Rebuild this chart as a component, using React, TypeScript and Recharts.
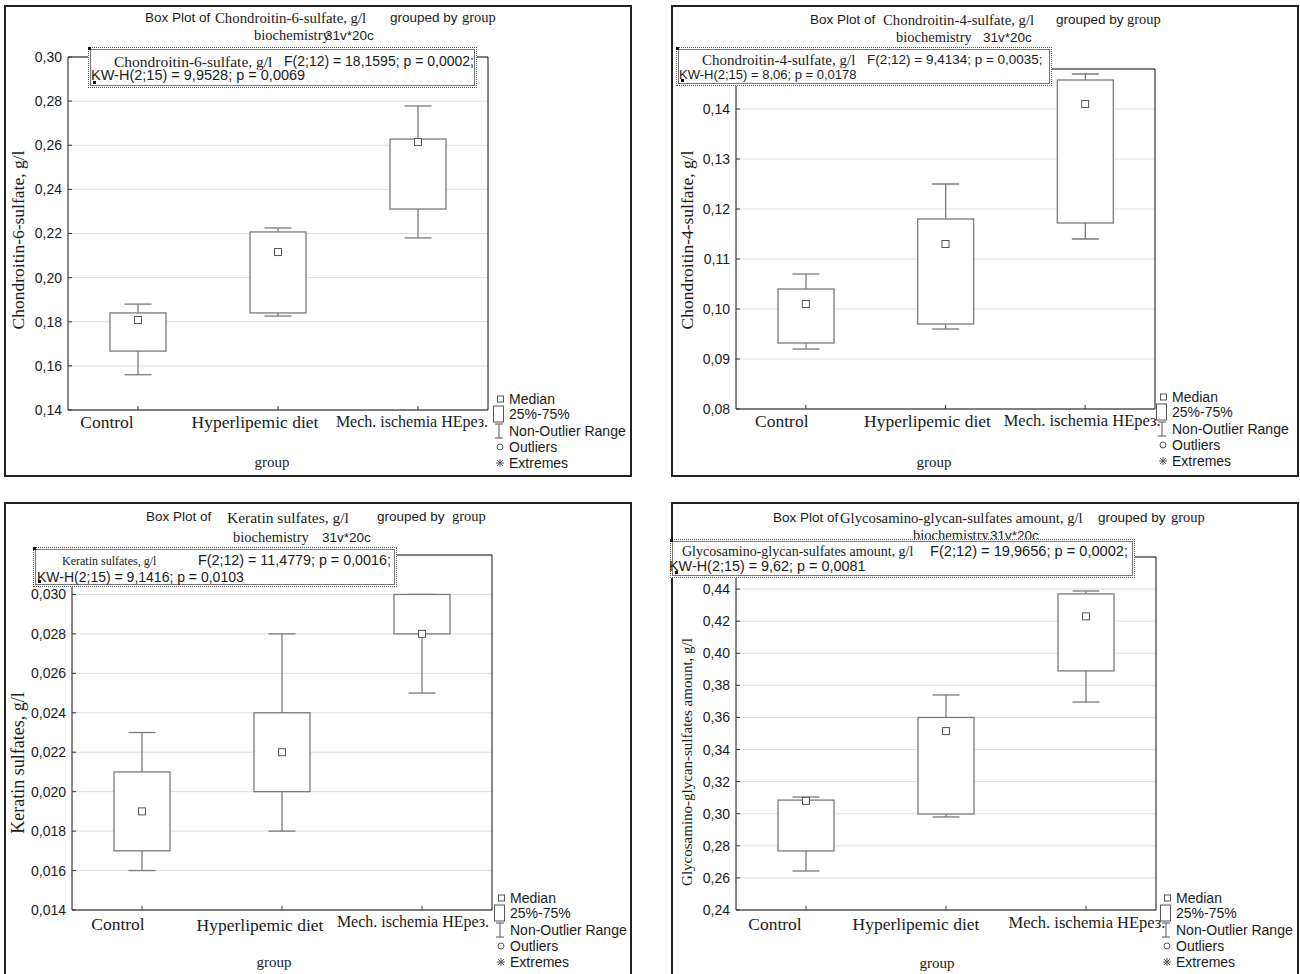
import React from 'react';
import { ComposedChart, Bar, Scatter, XAxis, YAxis, CartesianGrid, ReferenceLine } from 'recharts';

// ---------------- DATA ----------------
const categories = ['Control', 'Hyperlipemic diet', 'Mech. ischemia HEрез.'];

// Chondroitin-6-sulfate, g/l
const c6sMin = [0.156, 0.1826, 0.218];
const c6sQ1 = [0.1667, 0.184, 0.2311];
const c6sMedian = [0.1808, 0.2116, 0.2615];
const c6sQ3 = [0.184, 0.2207, 0.2628];
const c6sMax = [0.188, 0.2225, 0.2778];
const c6sTicks = [0.14, 0.16, 0.18, 0.2, 0.22, 0.24, 0.26, 0.28, 0.3];

// Chondroitin-4-sulfate, g/l
const c4sMin = [0.092, 0.096, 0.114];
const c4sQ1 = [0.0932, 0.097, 0.1172];
const c4sMedian = [0.101, 0.113, 0.141];
const c4sQ3 = [0.104, 0.118, 0.1458];
const c4sMax = [0.107, 0.125, 0.147];
const c4sTicks = [0.08, 0.09, 0.1, 0.11, 0.12, 0.13, 0.14];

// Keratin sulfates, g/l
const ksMin = [0.016, 0.018, 0.025];
const ksQ1 = [0.017, 0.02, 0.028];
const ksMedian = [0.019, 0.022, 0.028];
const ksQ3 = [0.021, 0.024, 0.03];
const ksMax = [0.023, 0.028, 0.03];
const ksTicks = [0.014, 0.016, 0.018, 0.02, 0.022, 0.024, 0.026, 0.028, 0.03];

// Glycosamino-glycan-sulfates amount, g/l
const gagMin = [0.2643, 0.298, 0.3696];
const gagQ1 = [0.2768, 0.2998, 0.389];
const gagMedian = [0.308, 0.3515, 0.423];
const gagQ3 = [0.3085, 0.36, 0.437];
const gagMax = [0.3104, 0.374, 0.4388];
const gagTicks = [0.24, 0.26, 0.28, 0.3, 0.32, 0.34, 0.36, 0.38, 0.4, 0.42, 0.44];

const legendLabels = ['Median', '25%-75%', 'Non-Outlier Range', 'Outliers', 'Extremes'];

function buildRows(mn: number[], q1: number[], md: number[], q3: number[], mx: number[]) {
  return categories.map((name, i) => ({
    name,
    whisker: [mn[i], mx[i]],
    box: [q1[i], q3[i]],
    median: md[i],
  }));
}

// ---------------- STYLE ----------------
const SANS = '"Liberation Sans", Arial, sans-serif';
const SERIF = '"Liberation Serif", "Times New Roman", serif';
const INK = '#1a1a1a';
const BOXC = '#7a7a7a';

type Piece = { t: string; x: number; serif?: boolean; size?: number };

type PanelCfg = {
  frame: { l: number; t: number; r: number; b: number };
  plot: { l: number; t: number; r: number; b: number };
  domain: [number, number];
  ticks: number[];
  decimals: number;
  rows: any[];
  tickDx: number[];
  tickDy: number[];
  tickFs: number[];
  title: { y: number; pieces: Piece[] };
  subtitle: { y: number; pieces: Piece[] };
  note: { l: number; t: number; w: number; h: number; line1: Piece[]; y1: number; line2: Piece[]; y2: number };
  yLabel: { t: string; x: number; y: number; size: number };
  xLabel: { x: number; y: number };
  legend: { x: number; y: number };
};

const panels: PanelCfg[] = [
  {
    frame: { l: 4, t: 5, r: 632, b: 477 },
    plot: { l: 68, t: 57, r: 488, b: 410 },
    domain: [0.14, 0.3],
    ticks: c6sTicks,
    decimals: 2,
    rows: buildRows(c6sMin, c6sQ1, c6sMedian, c6sQ3, c6sMax),
    tickDx: [-31, -23, -6],
    tickDy: [0, 0, -1],
    tickFs: [17.5, 17.5, 16],
    title: {
      y: 18,
      pieces: [
        { t: 'Box Plot of', x: 145, size: 13.5 },
        { t: 'Chondroitin-6-sulfate, g/l', x: 215, serif: true, size: 14.8 },
        { t: 'grouped by', x: 390, size: 13.5 },
        { t: 'group', x: 462, serif: true, size: 14.5 },
      ],
    },
    subtitle: {
      y: 36,
      pieces: [
        { t: 'biochemistry', x: 254, serif: true, size: 14.5 },
        { t: '31v*20c', x: 325, size: 13.5 },
      ],
    },
    note: {
      l: 88, t: 47, w: 389, h: 41, y1: 61, y2: 76,
      line1: [
        { t: 'Chondroitin-6-sulfate, g/l', x: 114, serif: true, size: 15.5 },
        { t: 'F(2;12) = 18,1595; p = 0,0002;', x: 284, size: 14 },
      ],
      line2: [{ t: 'KW-H(2;15) = 9,9528; p = 0,0069', x: 91, size: 14.5 }],
    },
    yLabel: { t: 'Chondroitin-6-sulfate, g/l', x: 18, y: 240, size: 17.5 },
    xLabel: { x: 272, y: 462 },
    legend: { x: 497, y: 399 },
  },
  {
    frame: { l: 671, t: 5, r: 1299, b: 477 },
    plot: { l: 736, t: 69, r: 1155, b: 409 },
    domain: [0.08, 0.148],
    ticks: c4sTicks,
    decimals: 2,
    rows: buildRows(c4sMin, c4sQ1, c4sMedian, c4sQ3, c4sMax),
    tickDx: [-24, -18, -3],
    tickDy: [0, 0, -1],
    tickFs: [17.5, 17.5, 16.5],
    title: {
      y: 20,
      pieces: [
        { t: 'Box Plot of', x: 810, size: 13.5 },
        { t: 'Chondroitin-4-sulfate, g/l', x: 883, serif: true, size: 14.8 },
        { t: 'grouped by', x: 1056, size: 13.5 },
        { t: 'group', x: 1127, serif: true, size: 14.5 },
      ],
    },
    subtitle: {
      y: 38,
      pieces: [
        { t: 'biochemistry', x: 896, serif: true, size: 14.5 },
        { t: '31v*20c', x: 983, size: 13.5 },
      ],
    },
    note: {
      l: 676, t: 47, w: 376, h: 39, y1: 60, y2: 75,
      line1: [
        { t: 'Chondroitin-4-sulfate, g/l', x: 702, serif: true, size: 15 },
        { t: 'F(2;12) = 9,4134; p = 0,0035;', x: 867, size: 13.5 },
      ],
      line2: [{ t: 'KW-H(2;15) = 8,06; p = 0,0178', x: 679, size: 13 }],
    },
    yLabel: { t: 'Chondroitin-4-sulfate, g/l', x: 687, y: 240, size: 17.5 },
    xLabel: { x: 934, y: 462 },
    legend: { x: 1160, y: 397 },
  },
  {
    frame: { l: 4, t: 502, r: 632, b: 990 },
    plot: { l: 72, t: 555, r: 492, b: 910 },
    domain: [0.014, 0.032],
    ticks: ksTicks,
    decimals: 3,
    rows: buildRows(ksMin, ksQ1, ksMedian, ksQ3, ksMax),
    tickDx: [-24, -22, -9],
    tickDy: [2, 3, -1],
    tickFs: [17.5, 17.5, 16],
    title: {
      y: 517,
      pieces: [
        { t: 'Box Plot of', x: 146, size: 13.5 },
        { t: 'Keratin sulfates, g/l', x: 227, serif: true, size: 15.5 },
        { t: 'grouped by', x: 377, size: 13.5 },
        { t: 'group', x: 452, serif: true, size: 14.5 },
      ],
    },
    subtitle: {
      y: 538,
      pieces: [
        { t: 'biochemistry', x: 233, serif: true, size: 14.5 },
        { t: '31v*20c', x: 322, size: 13.5 },
      ],
    },
    note: {
      l: 33, t: 547, w: 364, h: 40, y1: 561, y2: 577,
      line1: [
        { t: 'Keratin sulfates, g/l', x: 62, serif: true, size: 12 },
        { t: 'F(2;12) = 11,4779; p = 0,0016;', x: 198, size: 14.3 },
      ],
      line2: [{ t: 'KW-H(2;15) = 9,1416; p = 0,0103', x: 37, size: 14 }],
    },
    yLabel: { t: 'Keratin sulfates, g/l', x: 18, y: 763, size: 18 },
    xLabel: { x: 274, y: 962 },
    legend: { x: 498, y: 898 },
  },
  {
    frame: { l: 671, t: 502, r: 1299, b: 990 },
    plot: { l: 736, t: 557, r: 1156, b: 910 },
    domain: [0.24, 0.46],
    ticks: gagTicks,
    decimals: 2,
    rows: buildRows(gagMin, gagQ1, gagMedian, gagQ3, gagMax),
    tickDx: [-31, -30, 1],
    tickDy: [2, 2, 0],
    tickFs: [17.5, 17.5, 16.5],
    title: {
      y: 518,
      pieces: [
        { t: 'Box Plot of', x: 773, size: 13.5 },
        { t: 'Glycosamino-glycan-sulfates amount, g/l', x: 840, serif: true, size: 14.7 },
        { t: 'grouped by', x: 1098, size: 13.5 },
        { t: 'group', x: 1171, serif: true, size: 14.5 },
      ],
    },
    subtitle: {
      y: 536,
      pieces: [
        { t: 'biochemistry', x: 913, serif: true, size: 14.5 },
        { t: '31v*20c', x: 990, size: 13.5 },
      ],
    },
    note: {
      l: 670, t: 539, w: 465, h: 39, y1: 551, y2: 567,
      line1: [
        { t: 'Glycosamino-glycan-sulfates amount, g/l', x: 682, serif: true, size: 14 },
        { t: 'F(2;12) = 19,9656; p = 0,0002;', x: 930, size: 14.6 },
      ],
      line2: [{ t: 'KW-H(2;15) = 9,62; p = 0,0081', x: 669, size: 14.4 }],
    },
    yLabel: { t: 'Glycosamino-glycan-sulfates amount, g/l', x: 687, y: 762, size: 15 },
    xLabel: { x: 937, y: 963 },
    legend: { x: 1164, y: 898 },
  },
];

// ---------------- HELPERS ----------------
function Txt({ p, y }: { p: Piece; y: number }) {
  const size = p.size ?? 13;
  return (
    <div
      style={{
        position: 'absolute',
        left: p.x,
        top: y - size * 0.6,
        fontFamily: p.serif ? SERIF : SANS,
        fontSize: size,
        lineHeight: `${Math.round(size * 1.2)}px`,
        color: INK,
        whiteSpace: 'nowrap',
      }}
    >
      {p.t}
    </div>
  );
}

const Whisker = (props: any) => {
  const { x, y, width, height } = props;
  if (x == null || y == null) return null;
  const top = Math.min(y, y + height);
  const bot = Math.max(y, y + height);
  const cx = x + width / 2;
  const cap = 13.5;
  return (
    <g stroke={BOXC} strokeWidth={1.3}>
      <line x1={cx} x2={cx} y1={top} y2={bot} />
      <line x1={cx - cap} x2={cx + cap} y1={top} y2={top} />
      <line x1={cx - cap} x2={cx + cap} y1={bot} y2={bot} />
    </g>
  );
};

const BoxShape = (props: any) => {
  const { x, y, width, height } = props;
  if (x == null || y == null) return null;
  const top = Math.min(y, y + height);
  const h = Math.abs(height);
  return <rect x={x} y={top} width={width} height={h} fill="#fff" stroke={BOXC} strokeWidth={1.3} />;
};

const MedianMark = (props: any) => {
  const { cx, cy } = props;
  if (cx == null || cy == null) return null;
  return <rect x={cx - 3.5} y={cy - 3.5} width={7} height={7} fill="#fff" stroke="#555" strokeWidth={1} />;
};

const CatTick = (props: any) => {
  const { x, y, payload, index, offsets, offsetsY, sizes } = props;
  const dx = offsets ? offsets[index] ?? 0 : 0;
  const dy = offsetsY ? offsetsY[index] ?? 0 : 0;
  const fs = sizes ? sizes[index] ?? 17 : 17;
  return (
    <text x={x + dx} y={y + dy} dy={14} textAnchor="middle" fontFamily={SERIF} fontSize={fs} fill={INK}>
      {payload.value}
    </text>
  );
};

function Legend({ x, y }: { x: number; y: number }) {
  const rowsY = [y, y + 15, y + 32, y + 48, y + 64];
  return (
    <>
      <svg style={{ position: 'absolute', left: x - 6, top: y - 10, overflow: 'visible' }} width={20} height={90}>
        <g transform="translate(6, 10)" stroke="#555" fill="#fff" strokeWidth={1}>
          <rect x={0.5} y={-3} width={6} height={6} />
          <rect x={-3.5} y={7} width={10} height={16} />
          <line x1={2} x2={2} y1={25} y2={39} />
          <line x1={-2} x2={6} y1={25} y2={25} />
          <line x1={-2} x2={6} y1={39} y2={39} />
          <circle cx={3} cy={48} r={3} />
          <g transform="translate(3, 64)">
            <line x1={-4} x2={4} y1={0} y2={0} />
            <line x1={0} x2={0} y1={-4} y2={4} />
            <line x1={-3} x2={3} y1={-3} y2={3} />
            <line x1={-3} x2={3} y1={3} y2={-3} />
          </g>
        </g>
      </svg>
      {legendLabels.map((l, i) => (
        <Txt key={l} p={{ t: l, x: x + 12, size: 14 }} y={rowsY[i]} />
      ))}
    </>
  );
}

function Panel({ cfg }: { cfg: PanelCfg }) {
  const yW = 60;
  const mTop = 10;
  const xH = 40;
  const rW = 1;
  const mRight = 9;
  const plotW = cfg.plot.r - cfg.plot.l;
  const plotH = cfg.plot.b - cfg.plot.t;
  const W = plotW + yW + rW + mRight;
  const H = plotH + mTop + xH;
  const fmt = (v: number) => v.toFixed(cfg.decimals).replace('.', ',');
  const f = cfg.frame;
  const n = cfg.note;
  return (
    <>
      <div
        style={{
          position: 'absolute',
          left: f.l,
          top: f.t,
          width: f.r - f.l,
          height: f.b - f.t,
          border: '2px solid #222',
          boxSizing: 'border-box',
          background: '#fff',
        }}
      />
      <div style={{ position: 'absolute', left: cfg.plot.l - yW, top: cfg.plot.t - mTop }}>
        <ComposedChart width={W} height={H} data={cfg.rows} margin={{ top: mTop, right: mRight, left: 0, bottom: 0 }}>
          <CartesianGrid xAxisId="a" yAxisId="l" horizontal vertical={false} stroke="#dedede" />
          <XAxis
            xAxisId="a"
            dataKey="name"
            height={xH}
            interval={0}
            tickSize={-4}
            tickMargin={8}
            axisLine={{ stroke: '#111' }}
            tickLine={{ stroke: '#333' }}
            tick={<CatTick offsets={cfg.tickDx} offsetsY={cfg.tickDy} sizes={cfg.tickFs} />}
          />
          <XAxis xAxisId="z" dataKey="name" hide height={0} />
          <YAxis
            yAxisId="l"
            type="number"
            domain={cfg.domain}
            ticks={cfg.ticks}
            allowDataOverflow
            width={yW}
            tickSize={-4}
            tickMargin={10}
            tickFormatter={fmt}
            axisLine={{ stroke: '#111' }}
            tickLine={{ stroke: '#333' }}
            tick={{ fontFamily: SANS, fontSize: 14, fill: INK }}
          />
          <YAxis
            yAxisId="r"
            orientation="right"
            type="number"
            domain={cfg.domain}
            ticks={cfg.ticks}
            allowDataOverflow
            width={rW}
            tickSize={-4}
            tick={false}
            axisLine={{ stroke: '#111' }}
            tickLine={{ stroke: '#333' }}
          />
          <ReferenceLine xAxisId="a" yAxisId="l" y={cfg.domain[1]} stroke="#111" />
          <Bar xAxisId="a" yAxisId="l" dataKey="whisker" barSize={56} shape={Whisker} isAnimationActive={false} />
          <Bar xAxisId="z" yAxisId="l" dataKey="box" barSize={56} shape={BoxShape} isAnimationActive={false} />
          <Scatter xAxisId="a" yAxisId="l" dataKey="median" shape={MedianMark} isAnimationActive={false} />
        </ComposedChart>
      </div>
      {cfg.title.pieces.map((p, i) => (
        <Txt key={'t' + i} p={p} y={cfg.title.y} />
      ))}
      {cfg.subtitle.pieces.map((p, i) => (
        <Txt key={'s' + i} p={p} y={cfg.subtitle.y} />
      ))}
      <div
        style={{
          position: 'absolute',
          left: n.l,
          top: n.t,
          width: n.w,
          height: n.h,
          border: '1px dotted #555',
          boxSizing: 'border-box',
          background: '#fff',
        }}
      >
        <div style={{ position: 'absolute', left: 1, top: 1, right: 1, bottom: 1, border: '1px solid #777' }} />
        <div style={{ position: 'absolute', left: -1, top: -1, width: 3, height: 3, background: '#111' }} />
        <div style={{ position: 'absolute', left: 4, bottom: 3, width: 3, height: 3, background: '#111' }} />
      </div>
      {n.line1.map((p, i) => (
        <Txt key={'a' + i} p={p} y={n.y1} />
      ))}
      {n.line2.map((p, i) => (
        <Txt key={'b' + i} p={p} y={n.y2} />
      ))}
      <div
        style={{
          position: 'absolute',
          left: cfg.yLabel.x,
          top: cfg.yLabel.y,
          transform: 'translate(-50%, -50%) rotate(-90deg)',
          fontFamily: SERIF,
          fontSize: cfg.yLabel.size,
          color: INK,
          whiteSpace: 'nowrap',
          lineHeight: '20px',
        }}
      >
        {cfg.yLabel.t}
      </div>
      <div
        style={{
          position: 'absolute',
          left: cfg.xLabel.x,
          top: cfg.xLabel.y,
          transform: 'translate(-50%, -50%)',
          fontFamily: SERIF,
          fontSize: 15,
          color: INK,
          whiteSpace: 'nowrap',
        }}
      >
        group
      </div>
      <Legend x={cfg.legend.x} y={cfg.legend.y} />
    </>
  );
}

export default function App() {
  return (
    <div
      style={{
        position: 'absolute',
        left: 0,
        top: 0,
        width: 1300,
        height: 974,
        overflow: 'hidden',
        background: '#fff',
      }}
    >
      {panels.map((p, i) => (
        <Panel key={i} cfg={p} />
      ))}
    </div>
  );
}
